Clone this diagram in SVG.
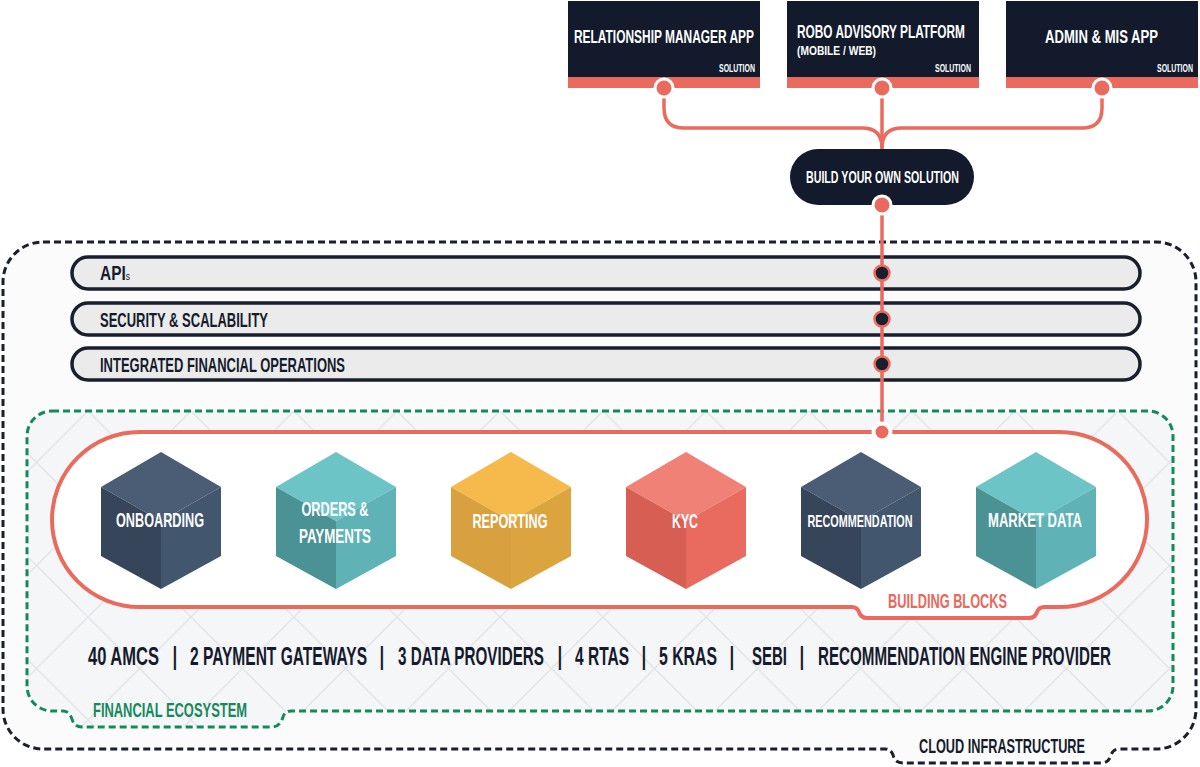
<svg xmlns="http://www.w3.org/2000/svg" width="1200" height="767" viewBox="0 0 1200 767">
<defs>
<style>
.t{font-family:"Liberation Sans Narrow","Liberation Sans","DejaVu Sans Condensed",Arial,sans-serif;font-weight:bold}
.w{fill:#ffffff}
.d{fill:#151b2c}
.box{fill:#121a2c}
.stripe{fill:#ea6b5e}
.dot{fill:#ea6b5e;stroke:#ffffff;stroke-width:3}
.bar{fill:#ebebeb;stroke:#1a1f2e;stroke-width:3.5}
.bdot{fill:#1a1f2e;stroke:#ea6b5e;stroke-width:2.5}
.conn{fill:none;stroke:#ea6b5e;stroke-width:3.5}
.pipe{font-weight:normal}
.nt{--ct:#4a5d75;--cl:#364559;--cr:#42566e}
.tl{--ct:#6dc4c7;--cl:#4b9294;--cr:#5fb2b5}
.yl{--ct:#f6b94c;--cl:#d9a040;--cr:#dca43f}
.kc{--ct:#f08177;--cl:#d75e53;--cr:#e96b60}
.ft{fill:var(--ct)}.fl{fill:var(--cl)}.fr{fill:var(--cr)}
</style>
<pattern id="lattice" patternUnits="userSpaceOnUse" x="88" y="411" width="103" height="103">
<path d="M0,0 L103,103 M103,0 L0,103" stroke="#e3e5e9" stroke-width="1.5" fill="none"/>
</pattern>
<g id="cube">
<polygon class="ft" points="0,-69 60,-34 0,0 -60,-34"/>
<polygon class="fl" points="-60,-34 0,0 0,68 -60,35"/>
<polygon class="fr" points="0,0 60,-34 60,35 0,68"/>
</g>
</defs>

<rect width="1200" height="767" fill="#ffffff"/>

<!-- Cloud infrastructure boundary -->
<g id="cloud-infrastructure">
<path d="M43,242 H1156 A40 40 0 0 1 1196,282 V709 A40 40 0 0 1 1156,749 H1119 Q1113,749 1111,755 Q1109,763 1101,763 H903 Q895,763 893,755 Q891,749 885,749 H43 A40 40 0 0 1 3,709 V282 A40 40 0 0 1 43,242 Z" fill="#fbfbfc" stroke="#1a1f2e" stroke-width="3" stroke-dasharray="7 4"/>
<text class="t d" x="1002" y="753" font-size="21" text-anchor="middle" textLength="166" lengthAdjust="spacingAndGlyphs">CLOUD INFRASTRUCTURE</text>
</g>

<!-- Financial ecosystem -->
<g id="financial-ecosystem">
<path d="M52,411 H1148 A25 25 0 0 1 1173,436 V686 A25 25 0 0 1 1148,711 H291 Q285,711 283,717 Q280,727 272,727 H82 Q74,727 72,719 Q69,711 63,711 H52 A25 25 0 0 1 27,686 V436 A25 25 0 0 1 52,411 Z" fill="#f5f6f8"/>
<path d="M52,411 H1148 A25 25 0 0 1 1173,436 V686 A25 25 0 0 1 1148,711 H291 Q285,711 283,717 Q280,727 272,727 H82 Q74,727 72,719 Q69,711 63,711 H52 A25 25 0 0 1 27,686 V436 A25 25 0 0 1 52,411 Z" fill="url(#lattice)" stroke="#138a5e" stroke-width="3" stroke-dasharray="7 4"/>
<text class="t" fill="#15895c" x="170" y="717" font-size="21" text-anchor="middle" textLength="154" lengthAdjust="spacingAndGlyphs">FINANCIAL ECOSYSTEM</text>
<text id="ecosystem-list" class="t d" y="665" font-size="26"><tspan x="88" textLength="71" lengthAdjust="spacingAndGlyphs">40 AMCS</tspan><tspan class="pipe" x="164.4"> | </tspan><tspan x="190" textLength="177" lengthAdjust="spacingAndGlyphs">2 PAYMENT GATEWAYS</tspan><tspan class="pipe" x="371.4"> | </tspan><tspan x="398" textLength="146" lengthAdjust="spacingAndGlyphs">3 DATA PROVIDERS</tspan><tspan class="pipe" x="549.4"> | </tspan><tspan x="575" textLength="54" lengthAdjust="spacingAndGlyphs">4 RTAS</tspan><tspan class="pipe" x="633.4"> | </tspan><tspan x="659" textLength="58" lengthAdjust="spacingAndGlyphs">5 KRAS</tspan><tspan class="pipe" x="721.4"> | </tspan><tspan x="752" textLength="35" lengthAdjust="spacingAndGlyphs">SEBI</tspan><tspan class="pipe" x="791.4"> | </tspan><tspan x="818" textLength="293" lengthAdjust="spacingAndGlyphs">RECOMMENDATION ENGINE PROVIDER</tspan></text>
</g>

<!-- Building blocks container -->
<g id="building-blocks">
<path d="M139.5,432 H1059.5 A87.5 87.5 0 0 1 1059.5,607 H1044 Q1039,607 1037,612 Q1035,618 1029,618 H867 Q861,618 859,612 Q857,607 852,607 H139.5 A87.5 87.5 0 0 1 139.5,432 Z" fill="#ffffff" stroke="#ea6b5e" stroke-width="4"/>
<text class="t" fill="#e9695c" x="947.5" y="608" font-size="21" text-anchor="middle" textLength="119" lengthAdjust="spacingAndGlyphs">BUILDING BLOCKS</text>
</g>

<!-- Cubes -->
<g id="cube-onboarding" class="nt">
<use href="#cube" transform="translate(161,521)"/>
<text class="t w" x="160" y="527" font-size="20" text-anchor="middle" textLength="88" lengthAdjust="spacingAndGlyphs">ONBOARDING</text>
</g>
<g id="cube-orders-payments" class="tl">
<use href="#cube" transform="translate(336,521)"/>
<text class="t w" x="335" y="516" font-size="20" text-anchor="middle" textLength="67" lengthAdjust="spacingAndGlyphs">ORDERS &amp;</text>
<text class="t w" x="335" y="543" font-size="20" text-anchor="middle" textLength="72" lengthAdjust="spacingAndGlyphs">PAYMENTS</text>
</g>
<g id="cube-reporting" class="yl">
<use href="#cube" transform="translate(511,521)"/>
<text class="t w" x="510" y="528" font-size="20" text-anchor="middle" textLength="75" lengthAdjust="spacingAndGlyphs">REPORTING</text>
</g>
<g id="cube-kyc" class="kc">
<use href="#cube" transform="translate(686,521)"/>
<text class="t w" x="685" y="528" font-size="20" text-anchor="middle" textLength="26" lengthAdjust="spacingAndGlyphs">KYC</text>
</g>
<g id="cube-recommendation" class="nt">
<use href="#cube" transform="translate(861,521)"/>
<text class="t w" x="860" y="527" font-size="17" text-anchor="middle" textLength="105" lengthAdjust="spacingAndGlyphs">RECOMMENDATION</text>
</g>
<g id="cube-market-data" class="tl">
<use href="#cube" transform="translate(1036,521)"/>
<text class="t w" x="1035" y="527" font-size="20" text-anchor="middle" textLength="94" lengthAdjust="spacingAndGlyphs">MARKET DATA</text>
</g>

<!-- Layer bars -->
<g id="bar-apis">
<rect class="bar" x="72" y="257" width="1068" height="32" rx="16"/>
<text class="t d" x="100" y="280" font-size="20" textLength="30" lengthAdjust="spacingAndGlyphs">API<tspan font-size="11" font-weight="normal">s</tspan></text>
</g>
<g id="bar-security">
<rect class="bar" x="72" y="303" width="1068" height="32" rx="16"/>
<text class="t d" x="100" y="327" font-size="20" textLength="168" lengthAdjust="spacingAndGlyphs">SECURITY &amp; SCALABILITY</text>
</g>
<g id="bar-ifo">
<rect class="bar" x="72" y="348" width="1068" height="32" rx="16"/>
<text class="t d" x="100" y="372" font-size="20" textLength="245" lengthAdjust="spacingAndGlyphs">INTEGRATED FINANCIAL OPERATIONS</text>
</g>

<!-- Solution boxes -->
<g id="box-relationship-manager">
<rect class="box" x="568" y="1" width="192" height="77"/>
<rect class="stripe" x="568" y="77" width="192" height="11"/>
<text class="t w" x="664" y="43" font-size="19" text-anchor="middle" textLength="180" lengthAdjust="spacingAndGlyphs">RELATIONSHIP MANAGER APP</text>
<text class="t w" x="755" y="72" font-size="10" font-weight="normal" text-anchor="end" textLength="36" lengthAdjust="spacingAndGlyphs">SOLUTION</text>
</g>
<g id="box-robo-advisory">
<rect class="box" x="787" y="1" width="192" height="77"/>
<rect class="stripe" x="787" y="77" width="192" height="11"/>
<text class="t w" x="881" y="38" font-size="19" text-anchor="middle" textLength="168" lengthAdjust="spacingAndGlyphs">ROBO ADVISORY PLATFORM</text>
<text class="t w" x="797" y="55" font-size="12" font-weight="normal" textLength="79" lengthAdjust="spacingAndGlyphs">(MOBILE / WEB)</text>
<text class="t w" x="971" y="72" font-size="10" font-weight="normal" text-anchor="end" textLength="36" lengthAdjust="spacingAndGlyphs">SOLUTION</text>
</g>
<g id="box-admin-mis">
<rect class="box" x="1006" y="1" width="192" height="77"/>
<rect class="stripe" x="1006" y="77" width="192" height="11"/>
<text class="t w" x="1101.5" y="43" font-size="19" text-anchor="middle" textLength="113" lengthAdjust="spacingAndGlyphs">ADMIN &amp; MIS APP</text>
<text class="t w" x="1193" y="72" font-size="10" font-weight="normal" text-anchor="end" textLength="36" lengthAdjust="spacingAndGlyphs">SOLUTION</text>
</g>

<!-- Connectors -->
<g id="connectors">
<path class="conn" d="M664,90 V108 Q664,128 684,128 H862 Q882,128 882,148"/>
<path class="conn" d="M1102,90 V108 Q1102,128 1082,128 H902 Q882,128 882,148"/>
<path class="conn" d="M882,90 V150"/>
<path class="conn" d="M882,205 V432"/>
<circle class="dot" cx="664" cy="88" r="9"/>
<circle class="dot" cx="882" cy="88" r="9"/>
<circle class="dot" cx="1102" cy="88" r="9"/>
<circle class="bdot" cx="882" cy="273" r="7.5"/>
<circle class="bdot" cx="882" cy="319" r="7.5"/>
<circle class="bdot" cx="882" cy="364" r="7.5"/>
<circle cx="882" cy="432" r="8.5" fill="#ea6b5e" stroke="#ffffff" stroke-width="4"/>
</g>

<!-- Build your own solution -->
<g id="node-build-your-own">
<rect x="790" y="149" width="184" height="56" rx="28" fill="#121a2c"/>
<text class="t w" x="882.5" y="183" font-size="16" text-anchor="middle" textLength="153" lengthAdjust="spacingAndGlyphs">BUILD YOUR OWN SOLUTION</text>
<circle class="dot" cx="882" cy="205" r="9"/>
</g>
</svg>
